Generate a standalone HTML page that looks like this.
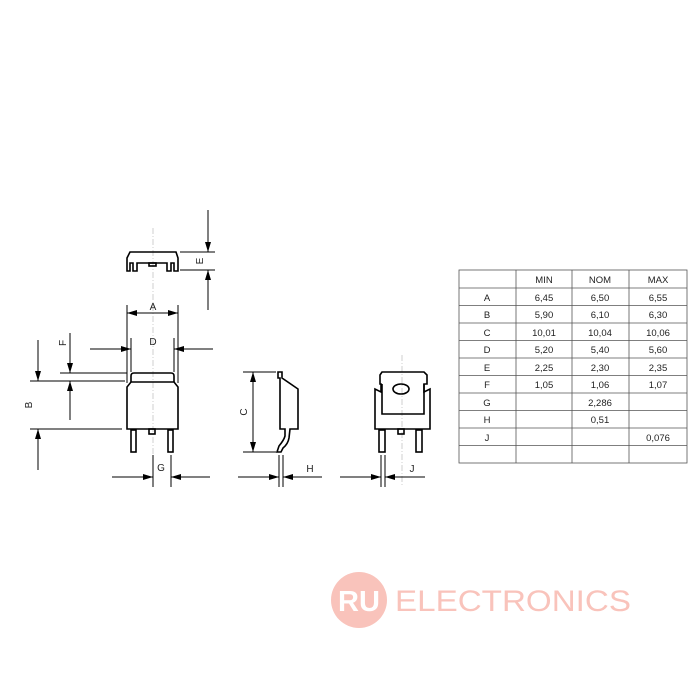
<!DOCTYPE html>
<html><head><meta charset="utf-8"><style>
html,body{margin:0;padding:0;background:#fff;width:700px;height:700px;overflow:hidden}
svg{display:block}
text{font-family:"Liberation Sans",sans-serif;fill:#222}
</style></head><body>
<svg width="700" height="700" viewBox="0 0 700 700" xmlns="http://www.w3.org/2000/svg">
<defs>
<marker id="a" viewBox="0 0 10 6" refX="10" refY="3" markerWidth="10" markerHeight="6" orient="auto-start-reverse" markerUnits="userSpaceOnUse"><path d="M0,0L10,3L0,6z" fill="#000"/></marker>
</defs>
<g stroke="#000" fill="none" stroke-width="1">
<!-- centerlines -->
<g stroke="#bbb" stroke-dasharray="6,2,1,2" stroke-width="0.7">
<line x1="153" y1="228" x2="153" y2="485"/>
<line x1="402" y1="355" x2="402" y2="485"/>
</g>
<!-- top view -->
<g stroke-width="1.6">
<path d="M130,252H176L178,258V271H174V263H171V271H167V263H137V271H133V263H130V271H127V258Z"/>
<rect x="149" y="263" width="7" height="3"/>
</g>
<!-- E -->
<line x1="180" y1="252" x2="215" y2="252"/>
<line x1="180" y1="270" x2="215" y2="270"/>
<line x1="208" y1="210" x2="208" y2="252" marker-end="url(#a)"/>
<line x1="208" y1="310" x2="208" y2="270" marker-end="url(#a)"/>
<!-- A -->
<line x1="127" y1="305" x2="127" y2="383"/>
<line x1="178" y1="305" x2="178" y2="383"/>
<line x1="153" y1="313" x2="127" y2="313" marker-end="url(#a)"/>
<line x1="153" y1="313" x2="178" y2="313" marker-end="url(#a)"/>
<!-- D -->
<line x1="131" y1="338" x2="131" y2="372"/>
<line x1="174" y1="338" x2="174" y2="372"/>
<line x1="90" y1="349" x2="131" y2="349" marker-end="url(#a)"/>
<line x1="213" y1="349" x2="174" y2="349" marker-end="url(#a)"/>
<!-- main body -->
<g stroke-width="1.6">
<path d="M131,382V376Q131,373 134,373H171Q174,373 174,376V382"/>
<path d="M131,382H174L178,387V429H127V387Z"/>
<rect x="131" y="430" width="5" height="22"/>
<rect x="168" y="430" width="5" height="22"/>
<rect x="149" y="429" width="6" height="5"/>
</g>
<!-- F -->
<line x1="60" y1="373" x2="127" y2="373"/>
<line x1="30" y1="381" x2="125" y2="381"/>
<line x1="70" y1="333" x2="70" y2="373" marker-end="url(#a)"/>
<line x1="70" y1="420" x2="70" y2="381" marker-end="url(#a)"/>
<!-- B -->
<line x1="30" y1="429" x2="122" y2="429"/>
<line x1="38" y1="340" x2="38" y2="381" marker-end="url(#a)"/>
<line x1="38" y1="470" x2="38" y2="429" marker-end="url(#a)"/>
<!-- G -->
<line x1="153" y1="455" x2="153" y2="487"/>
<line x1="171" y1="455" x2="171" y2="487"/>
<line x1="112" y1="477" x2="153" y2="477" marker-end="url(#a)"/>
<line x1="210" y1="477" x2="171" y2="477" marker-end="url(#a)"/>
<!-- side view -->
<g stroke-width="1.6">
<path d="M278,372H282V378L298,389V429H290L289,438Q288,444 283,448L281,452H277L279,446Q284,440 285,436V429H280V378H278Z"/>
</g>
<line x1="243" y1="372" x2="276" y2="372"/>
<line x1="243" y1="452" x2="276" y2="452"/>
<line x1="253" y1="412" x2="253" y2="372" marker-end="url(#a)"/>
<line x1="253" y1="412" x2="253" y2="452" marker-end="url(#a)"/>
<line x1="279" y1="455" x2="279" y2="487"/>
<line x1="283" y1="455" x2="283" y2="487"/>
<line x1="238" y1="477" x2="279" y2="477" marker-end="url(#a)"/>
<line x1="322" y1="477" x2="283" y2="477" marker-end="url(#a)"/>
<!-- front view -->
<g stroke-width="1.6">
<path d="M380,375L382,372H424L427,375V384H424V392L430,389V429H375V389L381,392V384H380Z"/>
<path d="M382,384V414H424V384"/>
<ellipse cx="401" cy="389" rx="8" ry="5"/>
<rect x="379" y="430" width="6" height="22"/>
<rect x="416" y="430" width="6" height="22"/>
<rect x="398" y="429" width="6" height="5"/>
</g>
<line x1="381" y1="455" x2="381" y2="487"/>
<line x1="385" y1="455" x2="385" y2="487"/>
<line x1="340" y1="477" x2="381" y2="477" marker-end="url(#a)"/>
<line x1="425" y1="477" x2="385" y2="477" marker-end="url(#a)"/>
<!-- table -->
<g stroke="#555" stroke-width="0.8">
<rect x="459" y="270" width="228" height="193"/>
<line x1="516" y1="270" x2="516" y2="463"/>
<line x1="572" y1="270" x2="572" y2="463"/>
<line x1="629" y1="270" x2="629" y2="463"/>
<line x1="459" y1="288" x2="687" y2="288"/>
<line x1="459" y1="305.5" x2="687" y2="305.5"/>
<line x1="459" y1="323" x2="687" y2="323"/>
<line x1="459" y1="340.5" x2="687" y2="340.5"/>
<line x1="459" y1="358" x2="687" y2="358"/>
<line x1="459" y1="375.5" x2="687" y2="375.5"/>
<line x1="459" y1="393" x2="687" y2="393"/>
<line x1="459" y1="410.5" x2="687" y2="410.5"/>
<line x1="459" y1="428" x2="687" y2="428"/>
<line x1="459" y1="445.5" x2="687" y2="445.5"/>
</g>
</g>
<g font-size="10" text-anchor="middle">
<text x="153" y="310">A</text>
<text x="153" y="345">D</text>
<text x="161" y="471">G</text>
<text x="310" y="472">H</text>
<text x="412" y="472">J</text>
<text transform="translate(203,261) rotate(-90)">E</text>
<text transform="translate(66,343) rotate(-90)">F</text>
<text transform="translate(32,405) rotate(-90)">B</text>
<text transform="translate(247,412) rotate(-90)">C</text>
</g>
<g font-size="9.5" text-anchor="middle">
<text x="544" y="283">MIN</text><text x="600" y="283">NOM</text><text x="658" y="283">MAX</text>
<text x="487" y="301">A</text><text x="544" y="301">6,45</text><text x="600" y="301">6,50</text><text x="658" y="301">6,55</text>
<text x="487" y="318">B</text><text x="544" y="318">5,90</text><text x="600" y="318">6,10</text><text x="658" y="318">6,30</text>
<text x="487" y="336">C</text><text x="544" y="336">10,01</text><text x="600" y="336">10,04</text><text x="658" y="336">10,06</text>
<text x="487" y="353">D</text><text x="544" y="353">5,20</text><text x="600" y="353">5,40</text><text x="658" y="353">5,60</text>
<text x="487" y="371">E</text><text x="544" y="371">2,25</text><text x="600" y="371">2,30</text><text x="658" y="371">2,35</text>
<text x="487" y="388">F</text><text x="544" y="388">1,05</text><text x="600" y="388">1,06</text><text x="658" y="388">1,07</text>
<text x="487" y="406">G</text><text x="600" y="406">2,286</text>
<text x="487" y="423">H</text><text x="600" y="423">0,51</text>
<text x="487" y="441">J</text><text x="658" y="441">0,076</text>
</g>
<!-- logo -->
<circle cx="359" cy="600" r="28" fill="#f9c3bb"/>
<text x="359" y="611" font-size="29" text-anchor="middle" style="fill:#fff" font-weight="bold">RU</text>
<text x="395" y="611" font-size="30" textLength="236" lengthAdjust="spacingAndGlyphs" style="fill:#f9c3bb">ELECTRONICS</text>
</svg>
</body></html>
